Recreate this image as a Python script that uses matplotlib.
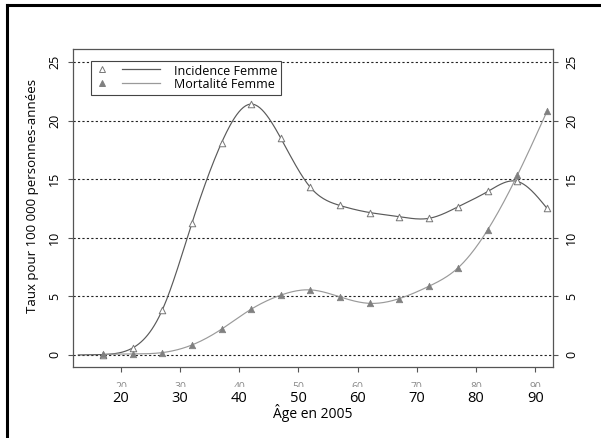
import numpy as np
import matplotlib
matplotlib.use("Agg")
import matplotlib.pyplot as plt
from matplotlib.lines import Line2D
from matplotlib.transforms import Bbox
from matplotlib.legend_handler import HandlerLine2D

ages = [17, 22, 27, 32, 37, 42, 47, 52, 57, 62, 67, 72, 77, 82, 87, 92]
incidence = [0.03, 0.6, 3.85, 11.25, 18.1, 21.4, 18.5, 14.3, 12.75, 12.15, 11.8, 11.65, 12.65, 13.95, 14.8, 12.5]
mortalite = [0.05, 0.08, 0.2, 0.85, 2.2, 3.9, 5.1, 5.55, 4.95, 4.4, 4.8, 5.85, 7.45, 10.7, 15.35, 20.8]
xticks = [20, 30, 40, 50, 60, 70, 80, 90]
yticks = [0, 5, 10, 15, 20, 25]
series_names = ["Incidence Femme", "Mortalité Femme"]


def natural_spline(x, y, xs):
    x = np.asarray(x, float); y = np.asarray(y, float)
    n = len(x)
    h = np.diff(x)
    A = np.zeros((n, n)); b = np.zeros(n)
    A[0, 0] = 1; A[-1, -1] = 1
    for i in range(1, n - 1):
        A[i, i - 1] = h[i - 1]
        A[i, i] = 2 * (h[i - 1] + h[i])
        A[i, i + 1] = h[i]
        b[i] = 3 * ((y[i + 1] - y[i]) / h[i] - (y[i] - y[i - 1]) / h[i - 1])
    c = np.linalg.solve(A, b)
    bb = (y[1:] - y[:-1]) / h - h * (2 * c[:-1] + c[1:]) / 3
    d = (c[1:] - c[:-1]) / (3 * h)
    idx = np.clip(np.searchsorted(x, xs) - 1, 0, n - 2)
    dx = xs - x[idx]
    return y[idx] + bb[idx] * dx + c[idx] * dx ** 2 + d[idx] * dx ** 3


plt.rcParams['font.family'] = ['Open Sans', 'DejaVu Sans']
fig = plt.figure(figsize=(6.01, 4.38), dpi=100)
ax = fig.add_axes([73 / 601, 1 - 367 / 438, (553 - 73) / 601, (367 - 49) / 438])
ax.set_xlim(11.9, 93.0)
ax.set_ylim(-1.03, 26.1)

for yv in yticks:
    ax.axhline(yv, color='#222222', lw=0.8, ls=(0, (2, 2)), zorder=1)

xs = np.linspace(ages[0], ages[-1], 400)
inc_c = '#5a5a5a'
mor_c = '#9a9a9a'
ax.plot(xs, natural_spline(ages, incidence, xs), color=inc_c, lw=0.85, zorder=2)
ax.plot([12.8, ages[0]], [0, incidence[0]], color=inc_c, lw=0.85, zorder=2)
ax.plot(xs, natural_spline(ages, mortalite, xs), color=mor_c, lw=0.85, zorder=2)
ax.scatter(ages, incidence, marker='^', s=22, facecolors='white', edgecolors='#777777', linewidths=0.7, zorder=3)
ax.scatter(ages, mortalite, marker='^', s=22, facecolors='#808080', edgecolors='#808080', linewidths=0.5, zorder=3)

for s in ax.spines.values():
    s.set_color('#555555'); s.set_linewidth(0.9)

ax.set_yticks(yticks)
ax.tick_params(axis='y', which='both', left=True, right=True, labelleft=True, labelright=True,
               direction='out', length=3.6, color='#555555', labelsize=9, pad=5)
ax.yaxis.set_tick_params(labelrotation=90)
for lab in ax.yaxis.get_ticklabels(which='both'):
    lab.set_verticalalignment('center')

ax.set_xticks(xticks)
ax.tick_params(axis='x', direction='out', length=3.6, color='#555555', labelsize=10.5, pad=13.5)

# faint, clipped duplicate tick labels
clipbox = Bbox.from_extents(0, 438 - 387, 601, 438 - 376)
for xv in xticks:
    t = ax.text(xv, -(382 - 367) / 318, str(xv), transform=ax.get_xaxis_transform(), ha='center', va='top',
                fontsize=7.5, color='#888888')
    t.set_clip_box(clipbox)
    t.set_clip_on(True)

ax.set_xlabel("Âge en 2005", fontsize=10, labelpad=-1)
ax.set_ylabel("Taux pour 100 000 personnes-années", fontsize=9.5)
ax.yaxis.set_label_coords(-(73 - 39) / 480, (367 - 196) / 318)

h1 = Line2D([], [], color=inc_c, lw=0.9, marker='^', markerfacecolor='white', markeredgecolor='#777777')
h2 = Line2D([], [], color=mor_c, lw=0.9, marker='^', markerfacecolor='#808080', markeredgecolor='#808080')


class SplitHandler(HandlerLine2D):
    def create_artists(self, legend, orig_handle, xdescent, ydescent, width, height, fontsize, trans):
        mk = Line2D([width * 0.1], [height / 2 - ydescent + 1], marker='^', linestyle='none',
                    markersize=4, markerfacecolor=orig_handle.get_markerfacecolor(),
                    markeredgecolor=orig_handle.get_markeredgecolor(), markeredgewidth=0.7,
                    transform=trans)
        ln = Line2D([width * 0.4, width * 0.95], [height / 2 - ydescent + 1] * 2,
                    color=orig_handle.get_color(), lw=0.9, transform=trans)
        return [mk, ln]


leg = ax.legend([h1, h2], series_names, loc='upper left', bbox_to_anchor=(18 / 480, 1 - 12 / 318),
                fontsize=9, frameon=True, fancybox=False, edgecolor='#444444', framealpha=1,
                handler_map={Line2D: SplitHandler()}, handlelength=5.5, handletextpad=0.8,
                borderpad=0.3, labelspacing=0.05, borderaxespad=0)
leg.get_frame().set_linewidth(0.8)

# outer frame (top and left)
fig.add_artist(Line2D([7 / 601, 1], [1 - 5 / 438, 1 - 5 / 438], transform=fig.transFigure, color='black', lw=2.2))
fig.add_artist(Line2D([7 / 601, 7 / 601], [0, 1 - 5 / 438], transform=fig.transFigure, color='black', lw=2.2))

fig.savefig('out.png', dpi=100)
